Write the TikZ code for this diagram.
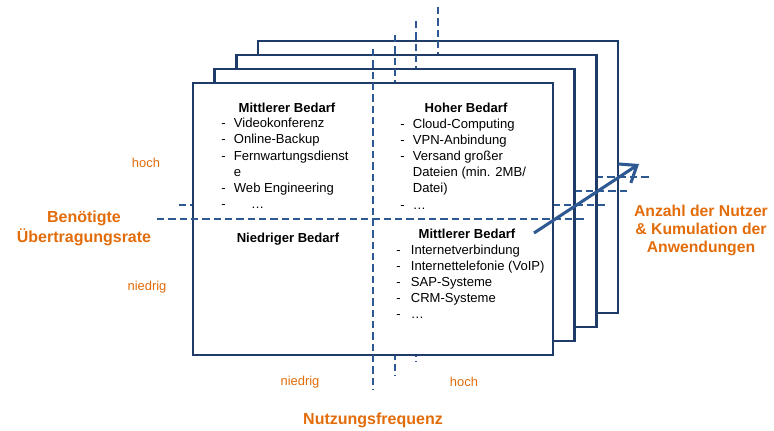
\documentclass[tikz,border=0pt]{standalone}
\usepackage{fontspec}
\setmainfont{Liberation Sans}
\usepackage{tikz}
\usetikzlibrary{arrows.meta,positioning}
\definecolor{frame}{RGB}{31,60,105}
\definecolor{split}{RGB}{46,88,145}
\definecolor{axisorange}{RGB}{227,108,10}

\begin{document}
\begin{tikzpicture}[
  x=0.75pt, y=-0.75pt,
  layer/.style={draw=frame, line width=2pt, fill=white},
  divider/.style={draw=split, line width=1.5pt, dash pattern=on 5.5pt off 3pt},
  head/.style={font=\fontsize{9.8}{12}\selectfont\bfseries, inner sep=0pt, anchor=base},
  items/.style={font=\fontsize{9.8}{12.15}\selectfont, inner sep=0pt, anchor=base west},
  level/.style={font=\fontsize{9.7}{12}\selectfont, text=axisorange, inner sep=0pt},
  axis/.style={font=\fontsize{12}{15}\selectfont\bfseries, text=axisorange,
               inner sep=0pt, align=center},
  growth/.style={draw=split, line width=2.3pt,
               -{Straight Barb[length=11pt, width=17pt]}}
]
  \useasboundingbox (0,0) rectangle (774,430);

  % stacked layers, back to front
  \foreach \i in {3,2,1,0} {
    \begin{scope}[shift={(21.7*\i,-14*\i)}]
      \draw[layer] (193,83) rectangle (553,355);
      \draw[divider] (373,49) -- (373,390);
      \draw[divider] (157,219) -- (587,219);
    \end{scope}
  }

  % quadrants of the front layer
  \node[head] (midTop) at (287,112) {Mittlerer Bedarf};
  \node[items] (midTopList) at (221,127.7) {%
    \begin{tabular}[t]{@{}l@{\hspace{6.2pt}}l@{}}
      - & Videokonferenz \\
      - & Online-Backup \\
      - & Fernwartungsdienst \\
        & e \\
      - & Web Engineering \\
      - & \hspace*{13pt}\dots
    \end{tabular}};

  \node[head] (high) at (466,112) {Hoher Bedarf};
  \node[items] (highList) at (400,128) {%
    \begin{tabular}[t]{@{}l@{\hspace{6.2pt}}l@{}}
      - & Cloud-Computing \\
      - & VPN-Anbindung \\
      - & Versand großer \\
        & Dateien (min. 2MB/ \\
        & Datei) \\
      - & \dots
    \end{tabular}};

  \node[head] (low) at (288,242) {Niedriger Bedarf};

  \node[head] (midBottom) at (467,238) {Mittlerer Bedarf};
  \node[items] (midBottomList) at (396,254) {%
    \begin{tabular}[t]{@{}l@{\hspace{7.7pt}}l@{}}
      - & Internetverbindung \\
      - & Internettelefonie (VoIP) \\
      - & SAP-Systeme \\
      - & CRM-Systeme \\
      - & \dots
    \end{tabular}};

  % axes
  \node[level] (rateHigh) at (146,163) {hoch};
  \node[level] (rateLow) at (147,287) {niedrig};
  \node[axis] (rate) at (84,228) {Benötigte\\Übertragungsrate};

  \node[level] (freqLow) at (300,382) {niedrig};
  \node[level] (freqHigh) at (464,382) {hoch};
  \node[axis] (freq) at (373,420) {Nutzungsfrequenz};

  \node[axis, font=\fontsize{11.8}{13.5}\selectfont\bfseries] (users) at (701,230)
    {Anzahl der Nutzer\\\& Kumulation der\\Anwendungen};

  % growth arrow
  \coordinate (growS) at (534,233);
  \coordinate (growE) at (639,164);
  \draw[growth] (growS) -- (growE);
\end{tikzpicture}
\end{document}
